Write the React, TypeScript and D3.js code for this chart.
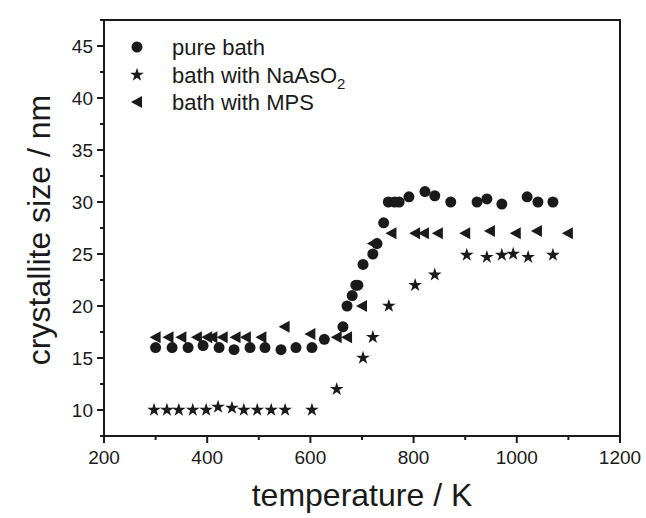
import React from 'react';
import * as d3 from 'd3';

// pure bath (circles)
const pureT = [300, 332, 363, 392, 423, 452, 483, 512, 543, 572, 603, 627, 663, 671, 681, 688, 692, 702, 721, 729, 742, 751, 763, 772, 791, 822, 841, 872, 923, 942, 971, 1020, 1041, 1070];
const pureV = [16, 16, 16, 16.2, 16, 15.8, 16, 16, 15.8, 16, 16, 16.8, 18, 20, 21, 22, 22, 24, 25, 26, 28, 30, 30, 30, 30.5, 31, 30.6, 30, 30, 30.3, 29.8, 30.5, 30, 30];

// bath with NaAsO2 (stars)
const naT = [297, 322, 345, 372, 398, 421, 448, 471, 497, 524, 551, 603, 651, 702, 721, 752, 803, 841, 903, 942, 971, 993, 1022, 1070];
const naV = [10, 10, 10, 10, 10, 10.3, 10.2, 10, 10, 10, 10, 10, 12, 15, 17, 20, 22, 23, 24.9, 24.7, 24.9, 25, 24.7, 24.9];

// bath with MPS (left triangles)
const mpsT = [300, 325, 350, 380, 400, 410, 430, 455, 475, 505, 550, 600, 651, 671, 700, 721, 757, 803, 820, 847, 900, 948, 998, 1039, 1099];
const mpsV = [17, 17, 17, 17, 17, 17, 17, 17, 17, 17, 18, 17.3, 17, 17, 20, 26, 27, 27, 27, 27, 27, 27.2, 27, 27.2, 27];

const xTicks = [200, 400, 600, 800, 1000, 1200];
const xMinor = [300, 500, 700, 900, 1100];
const yTicks = [10, 15, 20, 25, 30, 35, 40, 45];
const yMinor = [7.5, 12.5, 17.5, 22.5, 27.5, 32.5, 37.5, 42.5, 47.5];

const W = 646, H = 518;
const L = 104, R = 620, T = 20, B = 436;
const FONT = 'Liberation Sans, Arial, sans-serif';
const INK = '#1a1a1a';

const x = d3.scaleLinear().domain([200, 1200]).range([L, R]);
const y = d3.scaleLinear().domain([7.5, 47.5]).range([B, T]);

const star = d3.symbol().type(d3.symbolStar).size(58)()!;
const circle = d3.symbol().type(d3.symbolCircle).size(95)()!;
const tri = 'M-6,0L5,-6L5,6Z';

export default function App() {
  return (
    <svg width={W} height={H} style={{ position: 'absolute', left: 0, top: 0, background: '#fff' }} fontFamily={FONT}>
      <rect x={L} y={T} width={R - L} height={B - T} fill="none" stroke={INK} strokeWidth={2} />

      {/* x axis */}
      {xTicks.map((t) => (
        <g key={t}>
          <line x1={x(t)} x2={x(t)} y1={B} y2={B + 7} stroke={INK} strokeWidth={2} />
          <text x={x(t)} y={B + 28} textAnchor="middle" fontSize={19} fill={INK}>{t}</text>
        </g>
      ))}
      {xMinor.map((t) => (
        <line key={t} x1={x(t)} x2={x(t)} y1={B} y2={B + 4} stroke={INK} strokeWidth={2} />
      ))}

      {/* y axis */}
      {yTicks.map((t) => (
        <g key={t}>
          <line x1={L - 7} x2={L} y1={y(t)} y2={y(t)} stroke={INK} strokeWidth={2} />
          <text x={L - 11} y={y(t) + 7} textAnchor="end" fontSize={19} fill={INK}>{t}</text>
        </g>
      ))}
      {yMinor.map((t) => (
        <line key={t} x1={L - 4} x2={L} y1={y(t)} y2={y(t)} stroke={INK} strokeWidth={2} />
      ))}

      <text x={(L + R) / 2} y={506} textAnchor="middle" fontSize={32} fill={INK}>temperature / K</text>
      <text transform={`translate(50,${(T + B) / 2 + 2}) rotate(-90)`} textAnchor="middle" fontSize={32} fill={INK}>crystallite size / nm</text>

      {/* data */}
      {pureT.map((t, i) => (
        <path key={'p' + i} d={circle} transform={`translate(${x(t)},${y(pureV[i])})`} fill={INK} />
      ))}
      {naT.map((t, i) => (
        <path key={'n' + i} d={star} transform={`translate(${x(t)},${y(naV[i])})`} fill={INK} />
      ))}
      {mpsT.map((t, i) => (
        <path key={'m' + i} d={tri} transform={`translate(${x(t)},${y(mpsV[i])})`} fill={INK} />
      ))}

      {/* legend */}
      <path d={circle} transform="translate(137,47)" fill={INK} />
      <text x={172} y={55} fontSize={22} fill={INK}>pure bath</text>
      <path d={star} transform="translate(137,75)" fill={INK} />
      <text x={172} y={83} fontSize={22} fill={INK}>
        bath with NaAsO<tspan fontSize={15} dy={6}>2</tspan>
      </text>
      <path d={tri} transform="translate(137,102)" fill={INK} />
      <text x={172} y={110} fontSize={22} fill={INK}>bath with MPS</text>
    </svg>
  );
}
